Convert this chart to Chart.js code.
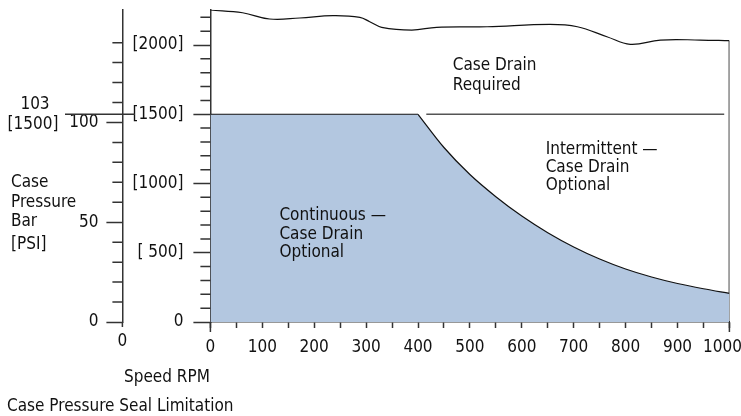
<!DOCTYPE html>
<html>
<head>
<meta charset="utf-8">
<title>Case Pressure Seal Limitation</title>
<script src="https://cdn.jsdelivr.net/npm/chart.js@4.4.1/dist/chart.umd.min.js"></script>
<style>
  html, body { margin: 0; padding: 0; background: #fff; }
  #wrap { position: relative; width: 741px; height: 416px; }
</style>
</head>
<body>
<div id="wrap"><canvas id="chart" width="741" height="416"></canvas></div>
<script>
  // ── Data ──────────────────────────────────────────────────────
  // shaded region: flat top, then the falling limit curve
  const FLAT_RPM = [0, 400];
  const FLAT_PSI = [1500, 1500];

  const CURVE_RPM = [400, 450, 500, 550, 600, 650, 700, 750, 800, 850, 900, 950, 1000];
  const CURVE_PSI = [1500, 1260, 1065, 905, 765, 645, 542, 455, 383, 325, 278, 240, 207];

  // wavy upper boundary ("Case Drain Required" region)
  const LIMIT_RPM = [0, 62, 114, 172, 236, 288, 307, 330, 388, 436, 533, 654, 707, 764, 809, 867, 944, 1000];
  const LIMIT_PSI = [2253, 2233, 2188, 2195, 2212, 2200, 2168, 2128, 2108, 2128, 2132, 2149, 2132, 2060, 2005, 2036, 2036, 2031];

  // right edge drop and the grey 1500 psi line
  const EDGE_RPM = [1000, 1000];
  const EDGE_PSI = [2031, 0];
  const SEAL_RPM = [416, 990];
  const SEAL_PSI = [1500, 1500];

  // ── Axes / tick labels ────────────────────────────────────────
  const RPM_TICKS = [0, 100, 200, 300, 400, 500, 600, 700, 800, 900, 1000];
  const PSI_TICKS = [0, 500, 1000, 1500, 2000];
  const PSI_TICK_TEXT = ['0', '[ 500]', '[1000]', '[1500]', '[2000]'];
  const BAR_TICKS = [0, 50, 100, 150];
  const BAR_TICK_TEXT = ['0', '50', '100', '150'];

  // ── Style tokens ──────────────────────────────────────────────
  const FONT_FAMILY = '"Liberation Sans Narrow", "DejaVu Sans Condensed", "Arial Narrow", sans-serif';
  const FONT_SIZE = 17;
  const INK = '#111';
  const AXIS_COLOR = '#333';
  const FILL_COLOR = '#b3c7e0';
  const NONE = 'rgba(0,0,0,0)';

  const xy = (xs, ys) => xs.map((x, i) => ({ x, y: ys[i] }));

  // minor ticks (shorter than the labelled ones) + free text
  const extras = {
    id: 'extras',
    beforeDraw(chart) {
      // keep the last rpm label inside the canvas
      const items = chart.scales.x.getLabelItems();
      const last = items[items.length - 1];
      if (last) last.options.translation[0] -= 7;
    },
    afterDraw(chart) {
      const { ctx, scales: { x, y, yBar } } = chart;
      ctx.save();
      ctx.strokeStyle = AXIS_COLOR;
      ctx.lineWidth = 1.5;
      ctx.beginPath();
      for (let v = 100; v <= 2200; v += 100) {
        if (PSI_TICKS.includes(v)) continue;
        const py = y.getPixelForValue(v);
        ctx.moveTo(y.right - 10, py); ctx.lineTo(y.right, py);
      }
      for (let v = 10; v <= 150; v += 10) {
        if (BAR_TICKS.includes(v)) continue;
        const py = yBar.getPixelForValue(v);
        ctx.moveTo(yBar.right - 10, py); ctx.lineTo(yBar.right, py);
      }
      // axis ends run a little below the rpm axis
      [0, 1000].forEach(v => {
        const px = x.getPixelForValue(v);
        ctx.moveTo(px, x.top); ctx.lineTo(px, x.top + 10);
      });
      ctx.moveTo(yBar.right, yBar.bottom); ctx.lineTo(yBar.right, yBar.bottom + 5);
      // 103 bar = 1500 psi marker
      const py1500 = y.getPixelForValue(1500);
      ctx.moveTo(65, py1500); ctx.lineTo(135, py1500);
      ctx.stroke();

      ctx.fillStyle = INK;
      ctx.font = FONT_SIZE + 'px ' + FONT_FAMILY;
      ctx.textBaseline = 'middle';
      ctx.textAlign = 'left';
      const put = (lines, rpm, psi, gap) => lines.forEach((t, i) =>
        ctx.fillText(t, x.getPixelForValue(rpm), y.getPixelForValue(psi) + i * gap));
      put(['Case Drain', 'Required'], 467, 1848, 20);
      put(['Intermittent \u2014', 'Case Drain', 'Optional'], 646, 1242, 18);
      put(['Continuous \u2014', 'Case Drain', 'Optional'], 133, 765, 18.5);

      ['Case', 'Pressure', 'Bar'].forEach((t, i) => ctx.fillText(t, 11, 183 + i * 19.5));
      ctx.fillText('[PSI]', 11, 245);
      ctx.fillText('Speed RPM', 124, 378);
      ctx.fillText('Case Pressure Seal Limitation', 7, 407);

      ctx.textAlign = 'center';
      ctx.fillText('103', 35, 105);
      ctx.fillText('[1500]', 33, 125);
      ctx.fillText('0', yBar.right, 342);
      ctx.restore();
    }
  };

  const tickFont = { family: FONT_FAMILY, size: FONT_SIZE };
  const line = (xs, ys, extra) => Object.assign({
    data: xy(xs, ys), xAxisID: 'x', yAxisID: 'y', fill: false,
    borderColor: INK, borderWidth: 1.2, pointRadius: 0
  }, extra);

  new Chart(document.getElementById('chart'), {
    type: 'line',
    data: {
      datasets: [
        line(FLAT_RPM, FLAT_PSI, { fill: 'origin', backgroundColor: FILL_COLOR }),
        line(CURVE_RPM, CURVE_PSI, { fill: 'origin', backgroundColor: FILL_COLOR, cubicInterpolationMode: 'monotone' }),
        line(SEAL_RPM, SEAL_PSI, { borderColor: '#555', borderWidth: 1.5 }),
        line(LIMIT_RPM, LIMIT_PSI, { tension: 0.4 }),
        line(EDGE_RPM, EDGE_PSI, { borderWidth: 1.5 })
      ]
    },
    options: {
      responsive: false,
      animation: false,
      devicePixelRatio: 1,
      // plot area 210.4 … 729.4 so that 400 rpm falls on a whole pixel (no seam between the fills)
      layout: { padding: { top: 9.7, right: 11.6, bottom: 0, left: 0 } },
      plugins: { legend: { display: false }, tooltip: { enabled: false } },
      scales: {
        x: {
          type: 'linear', min: 0, max: 1000,
          ticks: {
            stepSize: 50, autoSkip: false, maxRotation: 0, padding: 9, color: INK, font: tickFont,
            callback: v => RPM_TICKS.includes(v) ? String(v) : ''
          },
          grid: { drawOnChartArea: false, tickLength: 6, tickWidth: 1.5, tickColor: AXIS_COLOR },
          border: { color: AXIS_COLOR, width: 1.5 },
          afterFit: s => { s.height = 94; s.paddingLeft = 0; s.paddingRight = 0; }
        },
        y: {
          position: 'left', weight: 0, min: 0, max: 2255,
          ticks: {
            stepSize: 100, autoSkip: false, padding: 10, color: INK, font: tickFont,
            callback: v => PSI_TICKS.includes(v) ? PSI_TICK_TEXT[PSI_TICKS.indexOf(v)] : ''
          },
          grid: { drawOnChartArea: false, tickLength: 17, tickWidth: 1.5,
                  tickColor: c => PSI_TICKS.includes(c.tick.value) ? AXIS_COLOR : NONE },
          border: { color: AXIS_COLOR, width: 1.5 },
          afterFit: s => { s.width = 88; s.paddingTop = 0; s.paddingBottom = 0; }
        },
        yBar: {
          position: 'left', weight: 1, min: 0, max: 156.5,
          ticks: {
            stepSize: 10, autoSkip: false, padding: 8, color: INK, font: tickFont,
            callback: v => BAR_TICKS.includes(v) ? BAR_TICK_TEXT[BAR_TICKS.indexOf(v)] : ''
          },
          grid: { drawOnChartArea: false, tickLength: 16, tickWidth: 1.5,
                  tickColor: c => BAR_TICKS.includes(c.tick.value) ? AXIS_COLOR : NONE },
          border: { color: AXIS_COLOR, width: 1.5 },
          afterFit: s => { s.width = 122.4; s.paddingTop = 0; s.paddingBottom = 0; }
        }
      }
    },
    plugins: [extras]
  });
</script>
</body>
</html>
